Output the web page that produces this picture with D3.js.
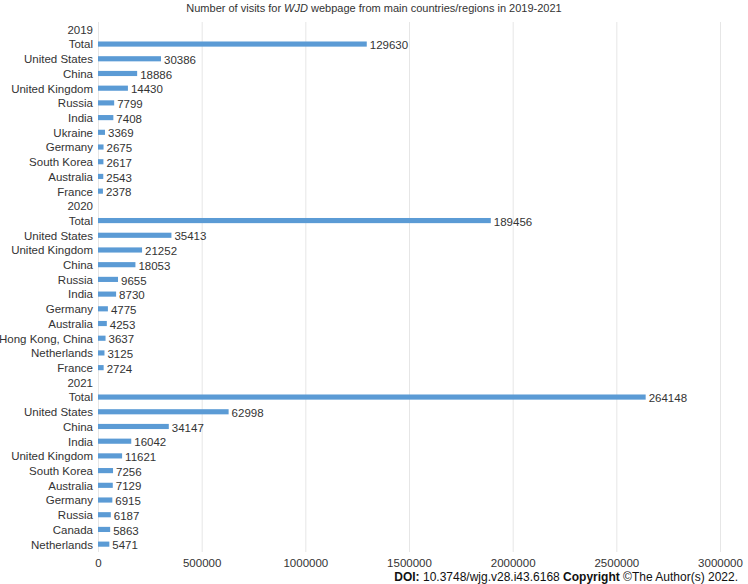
<!DOCTYPE html>
<html>
<head>
<meta charset="utf-8">
<script src="https://cdn.jsdelivr.net/npm/d3@7"></script>
<style>
  body { margin: 0; background: #fff; }
  text { font-family: "Liberation Sans", Arial, sans-serif; fill: #333; }
</style>
</head>
<body>
<script>
var years = ["2019", "2020", "2021"];

var cats2019 = ["Total", "United States", "China", "United Kingdom", "Russia", "India",
  "Ukraine", "Germany", "South Korea", "Australia", "France"];
var vals2019 = [129630, 30386, 18886, 14430, 7799, 7408, 3369, 2675, 2617, 2543, 2378];

var cats2020 = ["Total", "United States", "United Kingdom", "China", "Russia", "India",
  "Germany", "Australia", "Hong Kong, China", "Netherlands", "France"];
var vals2020 = [189456, 35413, 21252, 18053, 9655, 8730, 4775, 4253, 3637, 3125, 2724];

var cats2021 = ["Total", "United States", "China", "India", "United Kingdom", "South Korea",
  "Australia", "Germany", "Russia", "Canada", "Netherlands"];
var vals2021 = [264148, 62998, 34147, 16042, 11621, 7256, 7129, 6915, 6187, 5863, 5471];

// axis labels as printed on the original chart
var tickLabels = ["0", "500000", "1000000", "1500000", "2000000", "2500000", "3000000"];
var tickValues = [0, 50000, 100000, 150000, 200000, 250000, 300000];

var width = 748;
var height = 584;

// one row per year header, then one per country
var rows = [];
var groups = [[cats2019, vals2019], [cats2020, vals2020], [cats2021, vals2021]];
groups.forEach(function(g, gi) {
  rows.push({ label: years[gi], value: null });
  g[0].forEach(function(c, i) {
    rows.push({ label: c, value: g[1][i] });
  });
});

var svg = d3.select('body').append('svg')
  .attr('width', width)
  .attr('height', height);

var x = d3.scaleLinear()
  .domain([0, 300000])
  .range([98, 720]);

var y = d3.scaleBand()
  .domain(d3.range(rows.length))
  .range([22, 551.5])
  .paddingInner(0.65)
  .paddingOuter(0.325);

// gridlines
svg.append('g')
  .selectAll('line')
  .data(tickValues)
  .enter()
  .append('line')
  .attr('x1', function(d) { return x(d) + 0.5; })
  .attr('x2', function(d) { return x(d) + 0.5; })
  .attr('y1', 22)
  .attr('y2', 552)
  .attr('stroke', '#e6e6e6')
  .attr('stroke-width', 1);

// x axis labels
var xAxis = d3.axisBottom(x)
  .tickValues(tickValues)
  .tickFormat(function(d, i) { return tickLabels[i]; })
  .tickSize(0)
  .tickPadding(0);

var ax = svg.append('g')
  .attr('transform', 'translate(0,559)')
  .call(xAxis);
ax.select('.domain').remove();
ax.selectAll('text')
  .attr('dy', '0.71em')
  .style('font-size', '11.5px')
  .style('fill', '#333')
  .style('font-family', '"Liberation Sans", Arial, sans-serif');

// bars
svg.append('g')
  .selectAll('rect')
  .data(rows.filter(function(r) { return r.value !== null; }))
  .enter()
  .append('rect')
  .attr('x', x(0))
  .attr('y', function(d) { return y(rows.indexOf(d)); })
  .attr('width', function(d) { return x(d.value) - x(0); })
  .attr('height', y.bandwidth())
  .attr('fill', '#5b9bd5');

// category labels
svg.append('g')
  .selectAll('text')
  .data(rows)
  .enter()
  .append('text')
  .attr('x', 93)
  .attr('y', function(d, i) { return y(i) + y.bandwidth() / 2; })
  .attr('dy', '0.38em')
  .attr('text-anchor', 'end')
  .style('font-size', '11.5px')
  .text(function(d) { return d.label; });

// value labels
svg.append('g')
  .selectAll('text')
  .data(rows.filter(function(r) { return r.value !== null; }))
  .enter()
  .append('text')
  .attr('x', function(d) { return x(d.value) + 3; })
  .attr('y', function(d) { return y(rows.indexOf(d)) + y.bandwidth() / 2; })
  .attr('dy', '0.45em')
  .style('font-size', '11.5px')
  .text(function(d) { return d.value; });

// title
var title = svg.append('text')
  .attr('x', width / 2)
  .attr('y', 12)
  .attr('text-anchor', 'middle')
  .style('font-size', '11px');
title.append('tspan').text('Number of visits for ');
title.append('tspan').style('font-style', 'italic').text('WJD');
title.append('tspan').text(' webpage from main countries/regions in 2019-2021');

// source line
var doi = svg.append('text')
  .attr('x', 738)
  .attr('y', 581)
  .attr('text-anchor', 'end')
  .style('font-size', '12px')
  .style('fill', '#111');
doi.append('tspan').style('font-weight', 'bold').text('DOI:');
doi.append('tspan').text(' 10.3748/wjg.v28.i43.6168 ');
doi.append('tspan').style('font-weight', 'bold').text('Copyright');
doi.append('tspan').text(' \u00a9The Author(s) 2022.');
</script>
</body>
</html>
